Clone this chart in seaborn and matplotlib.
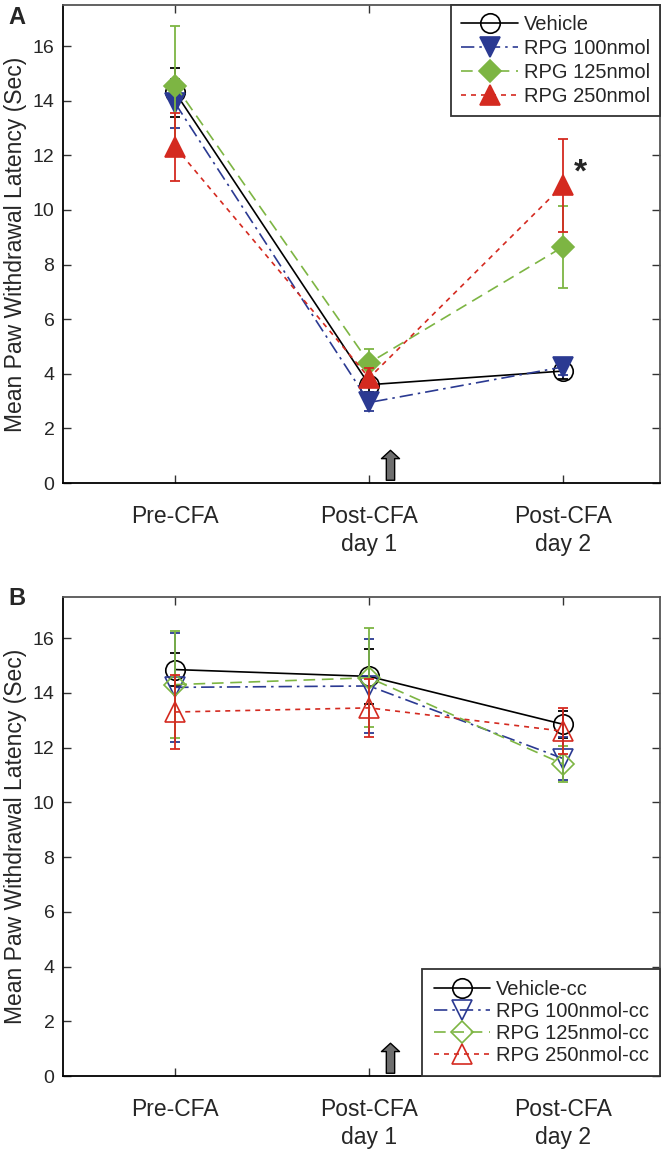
import numpy as np
import pandas as pd
import matplotlib
matplotlib.use("Agg")
import matplotlib.pyplot as plt
import seaborn as sns

# x categories
categories = ["Pre-CFA", "Post-CFA\nday 1", "Post-CFA\nday 2"]

# panel A (CFA paw)
labels_a = ["Vehicle", "RPG 100nmol", "RPG 125nmol", "RPG 250nmol"]
vehicle_a = [14.3, 3.6, 4.1]
vehicle_a_err = [0.9, 0.25, 0.3]
rpg100_a = [13.9, 2.95, 4.25]
rpg100_a_err = [0.9, 0.3, 0.3]
rpg125_a = [14.55, 4.4, 8.65]
rpg125_a_err = [2.2, 0.5, 1.5]
rpg250_a = [12.3, 3.85, 10.9]
rpg250_a_err = [1.25, 0.35, 1.7]

# panel B (contralateral paw)
labels_b = ["Vehicle-cc", "RPG 100nmol-cc", "RPG 125nmol-cc", "RPG 250nmol-cc"]
vehicle_b = [14.85, 14.6, 12.85]
vehicle_b_err = [0.6, 1.0, 0.5]
rpg100_b = [14.2, 14.25, 11.6]
rpg100_b_err = [2.0, 1.7, 0.8]
rpg125_b = [14.3, 14.55, 11.4]
rpg125_b_err = [1.95, 1.8, 0.65]
rpg250_b = [13.3, 13.45, 12.6]
rpg250_b_err = [1.35, 1.05, 0.85]

colors = ["black", "#2B3A92", "#7DB543", "#D42A20"]
markers = ["o", "v", "D", "^"]
msizes = [14, 14, 11, 14]
linestyles = ["-", (0, (8, 3, 1.5, 3)), (0, (7, 4)), (0, (3, 3))]

sns.set_style("white")
plt.rcParams["font.family"] = ["Liberation Sans", "DejaVu Sans"]

fig = plt.figure(figsize=(6.61, 11.49), dpi=100)
ax_a = fig.add_axes([0.095, 0.5796, 0.9035, 0.416])
ax_b = fig.add_axes([0.095, 0.0635, 0.9035, 0.4169])

x_pos = np.arange(1, len(categories) + 1)


def draw_panel(ax, labels, means, errs, filled):
    rows = []
    for lab, m, e in zip(labels, means, errs):
        for xp, v, err in zip(x_pos, m, e):
            rows.append({"group": lab, "pos": xp, "latency": v, "err": err})
    df = pd.DataFrame(rows)

    for i, lab in enumerate(labels):
        sub = df[df["group"] == lab]
        face = colors[i] if (filled and i > 0) else "none"
        ax.errorbar(sub["pos"], sub["latency"], yerr=sub["err"], fmt="none",
                    ecolor=colors[i], elinewidth=1.3, capsize=3.5, capthick=1.3, zorder=2 + i)
        sns.lineplot(data=sub, x="pos", y="latency", ax=ax, color=colors[i],
                     linestyle=linestyles[i], linewidth=1.2, marker=markers[i],
                     markersize=msizes[i], markerfacecolor=face,
                     markeredgecolor=colors[i], markeredgewidth=1.2,
                     label=lab, errorbar=None, sort=False, zorder=3 + i)

    ax.set_xlim(0.42, 3.5)
    ax.set_ylim(0, 17.5)
    ax.set_xticks(x_pos)
    ax.set_xticklabels(categories, fontsize=16.5, linespacing=1.25)
    ax.set_yticks(np.arange(0, 17, 2))
    ax.tick_params(axis="y", labelsize=14, pad=6)
    ax.tick_params(axis="x", pad=16)
    ax.tick_params(direction="in", length=6, width=1, color="#333333",
                   top=True, right=True, bottom=True, left=True)
    ax.set_xlabel("")
    ax.set_ylabel("Mean Paw Withdrawal Latency (Sec)", fontsize=16.5, labelpad=4)
    for side in ["left", "bottom"]:
        ax.spines[side].set_color("black")
        ax.spines[side].set_linewidth(1.3)
    for side in ["top", "right"]:
        ax.spines[side].set_color("#555555")
        ax.spines[side].set_linewidth(1.3)

    # injection arrow
    ax.annotate("", xy=(2.11, 1.3), xytext=(2.11, 0),
                arrowprops=dict(arrowstyle="simple,head_width=1.3,head_length=0.6,tail_width=0.6",
                                fc="#6e6e6e", ec="black", lw=1),
                zorder=10, annotation_clip=False)


draw_panel(ax_a, labels_a,
           [vehicle_a, rpg100_a, rpg125_a, rpg250_a],
           [vehicle_a_err, rpg100_a_err, rpg125_a_err, rpg250_a_err], filled=True)
draw_panel(ax_b, labels_b,
           [vehicle_b, rpg100_b, rpg125_b, rpg250_b],
           [vehicle_b_err, rpg100_b_err, rpg125_b_err, rpg250_b_err], filled=False)

# significance star
ax_a.text(3.09, 11.35, "*", fontsize=24, fontweight="bold", ha="center", va="center")

leg_a = ax_a.legend(loc="upper right", fontsize=14.5, frameon=True, fancybox=False,
                    edgecolor="#333333", framealpha=1, borderaxespad=0.0,
                    handlelength=2.8, labelspacing=0.25, borderpad=0.5, handletextpad=0.3)
leg_a.get_frame().set_linewidth(1.3)
leg_b = ax_b.legend(loc="lower right", fontsize=14.5, frameon=True, fancybox=False,
                    edgecolor="#333333", framealpha=1, borderaxespad=0.0,
                    handlelength=2.8, labelspacing=0.15, borderpad=0.55, handletextpad=0.3)
leg_b.get_frame().set_linewidth(1.3)

fig.text(0.012, 0.995, "A", fontsize=17, fontweight="bold", va="top", ha="left")
fig.text(0.012, 0.489, "B", fontsize=17, fontweight="bold", va="top", ha="left")

fig.savefig("out.png", dpi=100)
